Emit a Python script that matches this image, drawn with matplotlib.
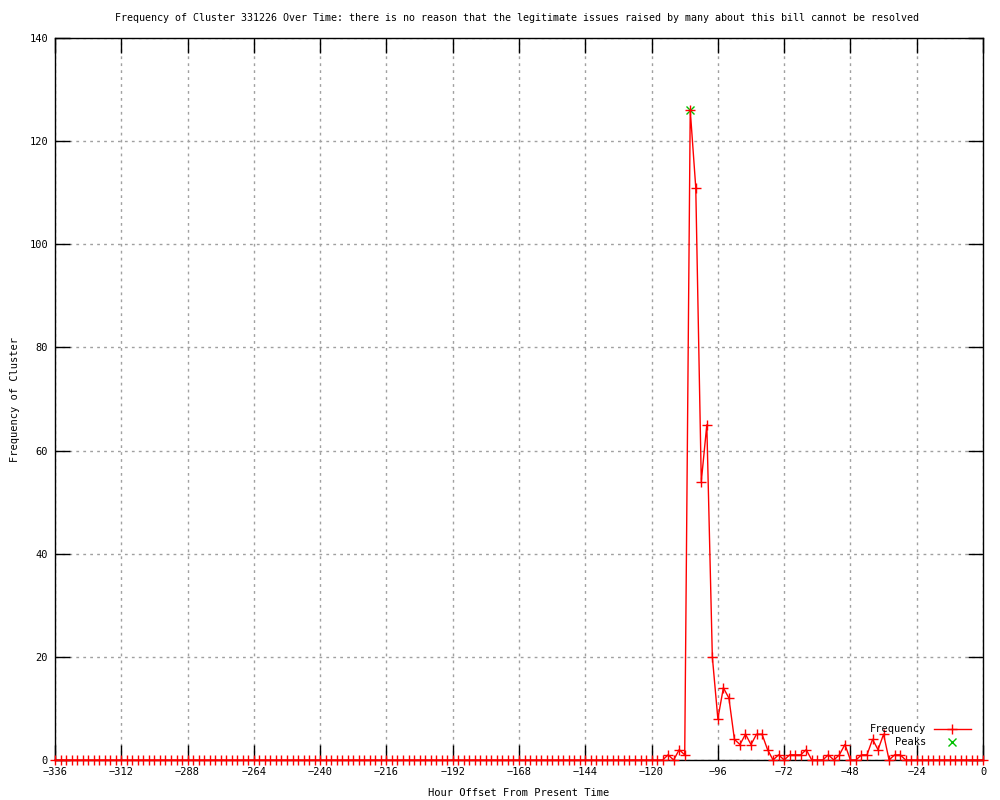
import numpy as np
import matplotlib
matplotlib.use("Agg")
import matplotlib.pyplot as plt

# hour offsets, every 2 hours from -336 to 0
hours = list(range(-336, 1, 2))

# non-zero counts by hour, everything else is 0
nonzero = {
    -114: 1, -110: 2, -108: 1,
    -106: 126, -104: 111, -102: 54, -100: 65, -98: 20, -96: 8,
    -94: 14, -92: 12, -90: 4, -88: 3, -86: 5, -84: 3, -82: 5, -80: 5,
    -78: 2, -74: 1, -70: 1, -68: 1, -66: 1, -64: 2,
    -56: 1, -52: 1, -50: 3, -44: 1, -42: 1, -40: 4, -38: 2, -36: 5,
    -32: 1, -30: 1,
}
freq = [nonzero.get(h, 0) for h in hours]

peak_hours = [-106]
peak_vals = [126]

title = ("Frequency of Cluster 331226 Over Time: there is no reason that the "
         "legitimate issues raised by many about this bill cannot be resolved")

plt.rcParams['font.family'] = ['DejaVu Sans Mono']
plt.rcParams['font.size'] = 7.5

fig = plt.figure(figsize=(10, 8), dpi=100)
ax = fig.add_axes([0.055, 0.05, 0.928, 0.9025])

ax.plot(peak_hours, peak_vals, linestyle='none', color='#00c000', marker='x',
        markersize=6, markeredgewidth=1, label='Peaks', clip_on=False, zorder=3)
ax.plot(hours, freq, color='red', linewidth=1, marker='+', markersize=6.5,
        markeredgewidth=1, label='Frequency', clip_on=False, zorder=4)

ax.set_xlim(-336, 0)
ax.set_ylim(0, 140)
ax.set_xticks(range(-336, 1, 24))
ax.set_yticks(range(0, 141, 20))
ax.grid(True, color='#a0a0a0', linestyle=(0, (2, 3)), linewidth=1)
ax.tick_params(direction='in', length=11, width=1, top=True, right=True,
               pad=5, labelsize=7.5)
for s in ax.spines.values():
    s.set_linewidth(1)

ax.set_xlabel("Hour Offset From Present Time", labelpad=8)
ax.set_ylabel("Frequency of Cluster", labelpad=7)
fig.text(0.517, 0.977, title, ha='center', va='center', fontsize=7.2)

handles, labels = ax.get_legend_handles_labels()
ax.legend(handles[::-1], labels[::-1], loc='lower right', frameon=False,
          markerfirst=False, handlelength=3.5, borderaxespad=0.6,
          labelspacing=0.3, fontsize=7.5, bbox_to_anchor=(0.998, 0.003))

fig.savefig("out.png", dpi=100)
